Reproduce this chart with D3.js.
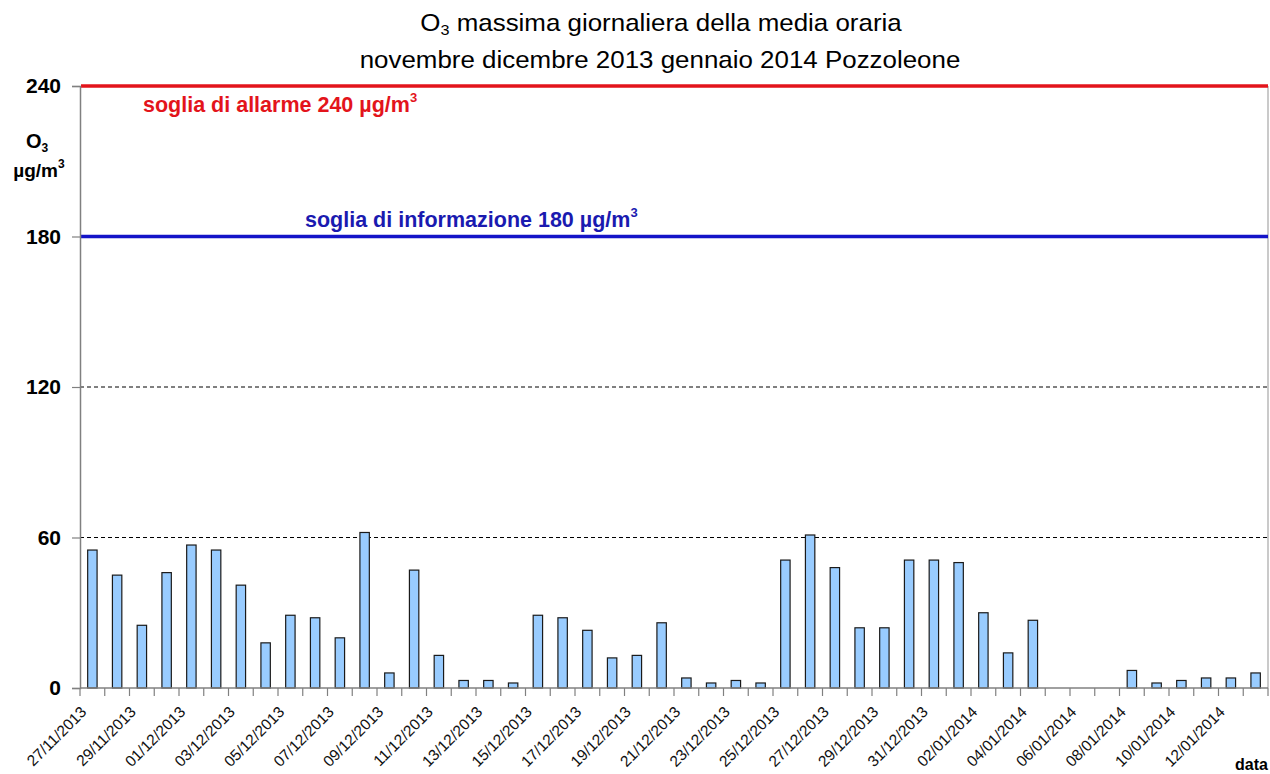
<!DOCTYPE html>
<html>
<head>
<meta charset="utf-8">
<script src="https://cdn.jsdelivr.net/npm/d3@7"></script>
<style>
  body { margin: 0; background: #fff; }
  svg { display: block; font-family: "Liberation Sans", Arial, sans-serif; }
</style>
</head>
<body>
<svg width="1270" height="774"></svg>
<script>
// daily max of hourly mean O3, Pozzoleone
const dates = [
    "27/11/2013", "28/11/2013", "29/11/2013", "30/11/2013",
    "01/12/2013", "02/12/2013", "03/12/2013", "04/12/2013", "05/12/2013", "06/12/2013", "07/12/2013",
    "08/12/2013", "09/12/2013", "10/12/2013", "11/12/2013", "12/12/2013", "13/12/2013", "14/12/2013",
    "15/12/2013", "16/12/2013", "17/12/2013", "18/12/2013", "19/12/2013", "20/12/2013", "21/12/2013",
    "22/12/2013", "23/12/2013", "24/12/2013", "25/12/2013", "26/12/2013", "27/12/2013", "28/12/2013",
    "29/12/2013", "30/12/2013", "31/12/2013",
    "01/01/2014", "02/01/2014", "03/01/2014", "04/01/2014", "05/01/2014", "06/01/2014", "07/01/2014",
    "08/01/2014", "09/01/2014", "10/01/2014", "11/01/2014", "12/01/2014", "13/01/2014"
];
const o3 = [
    55, 45, 25, 46, 57, 55, 41, 18, 29, 28, 20, 62, 6, 47, 13,
    3, 3, 2, 29, 28, 23, 12, 13, 26, 4, 2, 3, 2, 51, 61, 48, 24,
    24, 51, 51, 50, 30, 14, 27, null, null, null, 7, 2, 3, 4, 4, 6
];
const yTicks = [0, 60, 120, 180, 240];
const gridValues = [60, 120];
const thresholdValues = [240, 180];
const thresholdNames = ["soglia di allarme 240 µg/m", "soglia di informazione 180 µg/m"];
const titleLines = ["massima giornaliera della media oraria", "novembre dicembre 2013 gennaio 2014 Pozzoleone"];

const plotLeft = 80, plotRight = 1268, plotTop = 86, plotBottom = 688;

const svg = d3.select("svg");

const x = d3.scaleBand()
    .domain(dates)
    .range([plotLeft, plotRight])
    .paddingInner(0.62)
    .paddingOuter(0.31);

const y = d3.scaleLinear()
    .domain([0, 240])
    .range([plotBottom, plotTop]);

const center = d => x(d) + x.bandwidth() / 2;
const step = x.step();

// dashed grid
svg.selectAll("line.grid")
    .data(gridValues)
    .enter()
    .append("line")
    .attr("class", "grid")
    .attr("x1", plotLeft).attr("x2", plotRight)
    .attr("y1", d => y(d)).attr("y2", d => y(d))
    .attr("stroke", "#000")
    .attr("stroke-width", 1)
    .attr("stroke-dasharray", "4,3");

// right border of plot area
svg.append("line")
    .attr("x1", plotRight).attr("x2", plotRight)
    .attr("y1", y(240)).attr("y2", y(0))
    .attr("stroke", "#b8b8b8")
    .attr("stroke-width", 1.5);

// bars
svg.selectAll("rect.bar")
    .data(dates.map((d, i) => ({ date: d, value: o3[i] })).filter(d => d.value !== null))
    .enter()
    .append("rect")
    .attr("class", "bar")
    .attr("x", d => x(d.date))
    .attr("y", d => y(d.value))
    .attr("width", x.bandwidth())
    .attr("height", d => y(0) - y(d.value))
    .attr("fill", "#99ccff")
    .attr("stroke", "#1a1a1a")
    .attr("stroke-width", 1.2);

// threshold lines + labels
const thrColors = ["#e3141b", "#1414c8"];
const thrTextColors = ["#e3141b", "#1a1ab0"];
const thrLabelX = [143, 305];
const thrLabelY = [112, 227];

svg.selectAll("line.thr")
    .data(thresholdValues)
    .enter()
    .append("line")
    .attr("class", "thr")
    .attr("x1", plotLeft + 1).attr("x2", plotRight)
    .attr("y1", d => y(d)).attr("y2", d => y(d))
    .attr("stroke", (d, i) => thrColors[i])
    .attr("stroke-width", 3.5);

thresholdNames.forEach((name, i) => {
    const t = svg.append("text")
        .attr("x", thrLabelX[i])
        .attr("y", thrLabelY[i])
        .attr("fill", thrTextColors[i])
        .attr("font-size", 21.5)
        .attr("font-weight", "bold");
    t.append("tspan").text(name);
    t.append("tspan").attr("font-size", 13).attr("dy", -10).text("3");
});

// y axis
const yAxis = svg.append("g")
    .attr("transform", `translate(${plotLeft},0)`)
    .call(d3.axisLeft(y).tickValues(yTicks).tickSize(8).tickPadding(11).tickFormat(d3.format("d")));
yAxis.select(".domain").attr("stroke", "#808080").attr("stroke-width", 1.5);
yAxis.selectAll(".tick line").attr("stroke", "#808080").attr("stroke-width", 1.2);
yAxis.selectAll(".tick text")
    .attr("font-family", "Liberation Sans, Arial, sans-serif")
    .attr("font-size", 21)
    .attr("font-weight", "bold")
    .attr("fill", "#000");

// x axis: ticks on category boundaries
const xAxis = svg.append("g")
    .attr("transform", `translate(0,${plotBottom})`);
xAxis.append("line")
    .attr("x1", plotLeft).attr("x2", plotRight)
    .attr("stroke", "#808080")
    .attr("stroke-width", 1.5);
xAxis.selectAll("line.xt")
    .data(d3.range(dates.length + 1))
    .enter()
    .append("line")
    .attr("class", "xt")
    .attr("x1", i => plotLeft + i * step).attr("x2", i => plotLeft + i * step)
    .attr("y1", 0).attr("y2", 8)
    .attr("stroke", "#808080")
    .attr("stroke-width", 1.2);

xAxis.selectAll("text.xl")
    .data(dates.filter((d, i) => i % 2 === 0))
    .enter()
    .append("text")
    .attr("class", "xl")
    .attr("transform", d => `translate(${center(d) - 5},${25}) rotate(-45)`)
    .attr("text-anchor", "end")
    .attr("font-size", 15.5)
    .attr("fill", "#111")
    .text(d => d);

// axis titles
const yt = svg.append("text")
    .attr("x", 37).attr("y", 148)
    .attr("text-anchor", "middle")
    .attr("font-size", 20)
    .attr("font-weight", "bold");
yt.append("tspan").text("O");
yt.append("tspan").attr("font-size", 12).attr("dy", 4).text("3");

const yu = svg.append("text")
    .attr("x", 39).attr("y", 177)
    .attr("text-anchor", "middle")
    .attr("font-size", 19)
    .attr("font-weight", "bold");
yu.append("tspan").text("µg/m");
yu.append("tspan").attr("font-size", 12).attr("dy", -9).text("3");

svg.append("text")
    .attr("x", 1268).attr("y", 770)
    .attr("text-anchor", "end")
    .attr("font-size", 16)
    .attr("font-weight", "bold")
    .text("data");

// title, slightly wide like the original
const t1 = svg.append("g").attr("transform", "translate(661,31) scale(1.08,1)")
    .append("text")
    .attr("text-anchor", "middle")
    .attr("font-size", 24);
t1.append("tspan").text("O");
t1.append("tspan").attr("font-size", 15).attr("dy", 4).text("3");
t1.append("tspan").attr("dy", -4).text(" " + titleLines[0]);

svg.append("g").attr("transform", "translate(660,68) scale(1.08,1)")
    .append("text")
    .attr("text-anchor", "middle")
    .attr("font-size", 24)
    .text(titleLines[1]);
</script>
</body>
</html>
